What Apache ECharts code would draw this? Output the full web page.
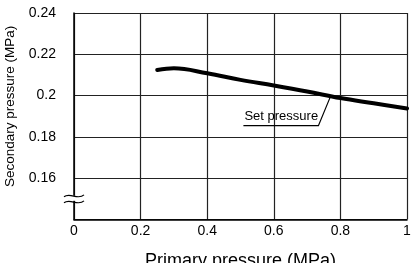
<!DOCTYPE html>
<html>
<head>
<meta charset="utf-8" />
<title>Set pressure</title>
<script type="text/javascript" src="https://cdn.jsdelivr.net/npm/echarts@6/dist/echarts.min.js"></script>
<style>
  html, body { margin: 0; padding: 0; background: #fff; }
  #main { width: 412px; height: 263px; }
</style>
</head>
<body>
<div id="main"></div>
<script type="text/javascript">
  // primary pressure (MPa) -> secondary pressure (MPa)
  var primary = [0.25, 0.3, 0.4, 0.5, 0.6, 0.7, 0.8, 0.9, 1.0];
  var secondary = [0.2124, 0.2132, 0.2108, 0.2076, 0.2049, 0.2020, 0.1988, 0.1963, 0.1938];
  var yTicks = [0.14, 0.16, 0.18, 0.2, 0.22, 0.24];
  var xTicks = [0, 0.2, 0.4, 0.6, 0.8, 1];
  var labelAnchor = [0.77, 0.1995];   // where the leader of "Set pressure" touches the curve

  var font = '"Liberation Sans", Arial, sans-serif';
  var myChart = echarts.init(document.getElementById('main'));

  var points = [];
  for (var i = 0; i < primary.length; i++) {
    points.push([primary[i], secondary[i]]);
  }

  myChart.setOption({
    animation: false,
    backgroundColor: '#fff',
    grid: { left: 74, right: 5, top: 13, bottom: 43.5, outerBoundsMode: 'none', containLabel: false },
    xAxis: {
      type: 'value',
      min: xTicks[0],
      max: xTicks[xTicks.length - 1],
      interval: 0.2,
      name: 'Primary pressure (MPa)',
      nameLocation: 'middle',
      nameGap: 33,
      nameTextStyle: { fontFamily: font, fontSize: 18, color: '#000' },
      axisLine: { lineStyle: { color: '#000', width: 1.5 } },
      axisTick: { show: false },
      axisLabel: { fontFamily: font, fontSize: 14, color: '#000', margin: 5 },
      splitLine: { lineStyle: { color: '#222', width: 1.2 } }
    },
    yAxis: {
      type: 'value',
      min: yTicks[0],
      max: yTicks[yTicks.length - 1],
      interval: 0.02,
      axisLine: { show: true, lineStyle: { color: '#000', width: 1.5 } },
      axisTick: { show: false },
      axisLabel: {
        fontFamily: font, fontSize: 14, color: '#000', margin: 18,
        formatter: function (v) {
          return Math.abs(v - yTicks[0]) < 1e-6 ? '' : String(+v.toFixed(2));
        }
      },
      splitLine: { lineStyle: { color: '#222', width: 1.2 } }
    },
    series: [{
      type: 'line',
      data: points,
      smooth: 0.4,
      showSymbol: false,
      lineStyle: { color: '#000', width: 4, cap: 'round' }
    }]
  });

  // annotations placed through the axes
  var a = myChart.convertToPixel({ gridIndex: 0 }, labelAnchor);
  var brk = myChart.convertToPixel({ gridIndex: 0 }, [0, 0.1505]);
  var ax = brk[0], ay = brk[1];

  myChart.setOption({
    graphic: [
      {
        type: 'text', rotation: Math.PI / 2,
        x: 3, y: 187,
        style: { text: 'Secondary pressure (MPa)', font: '13.5px ' + font, fill: '#000',
                 textAlign: 'left', textVerticalAlign: 'top' }
      },
      {
        type: 'text', x: a[0] - 86, y: a[1] + 13,
        style: { text: 'Set pressure', font: '13px ' + font, fill: '#000' }
      },
      {
        type: 'polyline',
        shape: { points: [[a[0] - 87, a[1] + 29], [a[0] - 12, a[1] + 29], [a[0], a[1]]] },
        style: { stroke: '#000', lineWidth: 1.2, fill: null }
      },
      {
        type: 'rect', shape: { x: ax - 3, y: ay - 2, width: 6, height: 5 },
        style: { fill: '#fff' }, z: 100
      },
      {
        type: 'bezierCurve',
        shape: { x1: ax - 10, y1: ay - 1, cpx1: ax - 4, cpy1: ay - 6, cpx2: ax + 4, cpy2: ay + 3, x2: ax + 10, y2: ay - 3 },
        style: { stroke: '#000', lineWidth: 1.2, fill: null }, z: 101
      },
      {
        type: 'bezierCurve',
        shape: { x1: ax - 10, y1: ay + 5, cpx1: ax - 4, cpy1: ay, cpx2: ax + 4, cpy2: ay + 9, x2: ax + 10, y2: ay + 3 },
        style: { stroke: '#000', lineWidth: 1.2, fill: null }, z: 101
      }
    ]
  });
</script>
</body>
</html>
